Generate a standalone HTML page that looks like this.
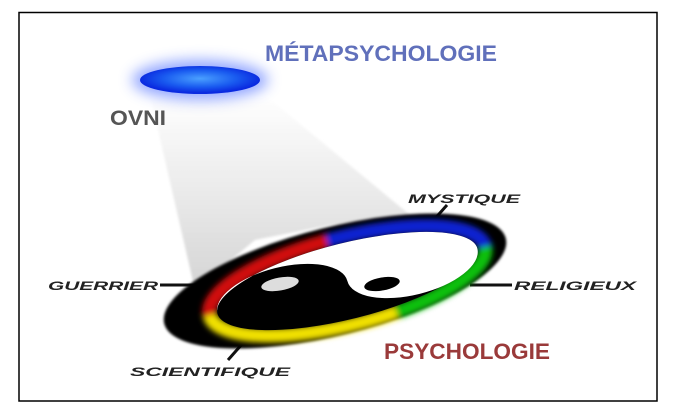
<!DOCTYPE html>
<html><head><meta charset="utf-8"><style>
html,body{margin:0;padding:0;background:#fff;}
svg{display:block}
</style></head><body>
<svg width="700" height="414" viewBox="0 0 700 414" xmlns="http://www.w3.org/2000/svg">
<defs>
<radialGradient id="ufo" cx="50%" cy="45%" r="50%">
<stop offset="0" stop-color="#4aa0ff"/><stop offset="0.6" stop-color="#1a5cf0"/><stop offset="1" stop-color="#0a2ae0"/>
</radialGradient>
<filter id="glow" x="-50%" y="-100%" width="200%" height="300%"><feGaussianBlur stdDeviation="7"/></filter>
<filter id="b2" x="-20%" y="-50%" width="140%" height="200%"><feGaussianBlur stdDeviation="3"/></filter>
<filter id="b1"><feGaussianBlur stdDeviation="1.2"/></filter>
<linearGradient id="beam" x1="0" y1="0" x2="0" y2="1">
<stop offset="0" stop-color="#fff"/><stop offset="0.5" stop-color="#eaeaea"/><stop offset="1" stop-color="#d4d4d4"/>
</linearGradient>
</defs>
<rect x="19" y="12.5" width="638" height="388.5" fill="#fff" stroke="#000" stroke-width="1.5"/>
<polygon points="150,95 265,95 410,215 330,225 255,240 195,290" fill="url(#beam)" filter="url(#b1)"/>
<ellipse cx="200" cy="80" rx="68" ry="20" fill="#4a6aff" opacity="0.6" filter="url(#glow)"/>
<ellipse cx="200" cy="80" rx="60" ry="14" fill="url(#ufo)"/>
<text x="265" y="61" font-family="Liberation Sans, sans-serif" font-weight="bold" font-size="22" fill="#6070bb" textLength="232" lengthAdjust="spacingAndGlyphs">MÉTAPSYCHOLOGIE</text>
<text x="110" y="125" font-family="Liberation Sans, sans-serif" font-weight="bold" font-size="21" fill="#555" textLength="56" lengthAdjust="spacingAndGlyphs">OVNI</text>
<g stroke="#111" stroke-width="3">
<line x1="160" y1="285" x2="200" y2="285"/>
<line x1="470" y1="285" x2="512" y2="285"/>
<line x1="447" y1="205" x2="432" y2="222"/>
<line x1="243" y1="343" x2="228" y2="360"/>
</g>
<g font-family="Liberation Sans, sans-serif" font-weight="bold" font-style="italic" font-size="12" fill="#222">
<text x="48" y="290" textLength="110" lengthAdjust="spacingAndGlyphs">GUERRIER</text>
<text x="514" y="290" textLength="122" lengthAdjust="spacingAndGlyphs">RELIGIEUX</text>
<text x="408" y="203" textLength="112" lengthAdjust="spacingAndGlyphs">MYSTIQUE</text>
<text x="130" y="376" textLength="160" lengthAdjust="spacingAndGlyphs">SCIENTIFIQUE</text>
</g>
<g transform="translate(335,281) rotate(-14)">
<ellipse cx="0" cy="0" rx="176" ry="54" fill="#000" filter="url(#b1)"/>
<g transform="translate(12,3)" filter="url(#b2)" fill="none" stroke-width="14">
<path d="M -142 0 A 142 44 0 0 1 -10 -44" stroke="#d01010"/>
<path d="M -10 -44 A 142 44 0 0 1 142 0" stroke="#1020d0"/>
<path d="M 142 0 A 142 44 0 0 1 40 42" stroke="#10c010"/>
<path d="M 40 42 A 142 44 0 0 1 -142 0" stroke="#f0e000"/>
</g>
<g transform="translate(12,3)">
<ellipse cx="0" cy="0" rx="134" ry="38" fill="#000"/>
<path d="M -134 0 A 134 38 0 0 1 134 0 A 67 30 0 0 1 0 0 A 67 30 0 0 0 -134 0 Z" fill="#fff"/>
</g>
</g>
<ellipse cx="280" cy="284" rx="19" ry="6.5" fill="#ddd" transform="rotate(-10 280 284)"/>
<ellipse cx="382" cy="284" rx="18" ry="6.5" fill="#000" transform="rotate(-10 382 284)"/>
<text x="384" y="359" font-family="Liberation Sans, sans-serif" font-weight="bold" font-size="22" fill="#9a3a3a" textLength="166" lengthAdjust="spacingAndGlyphs">PSYCHOLOGIE</text>
</svg>
</body></html>
